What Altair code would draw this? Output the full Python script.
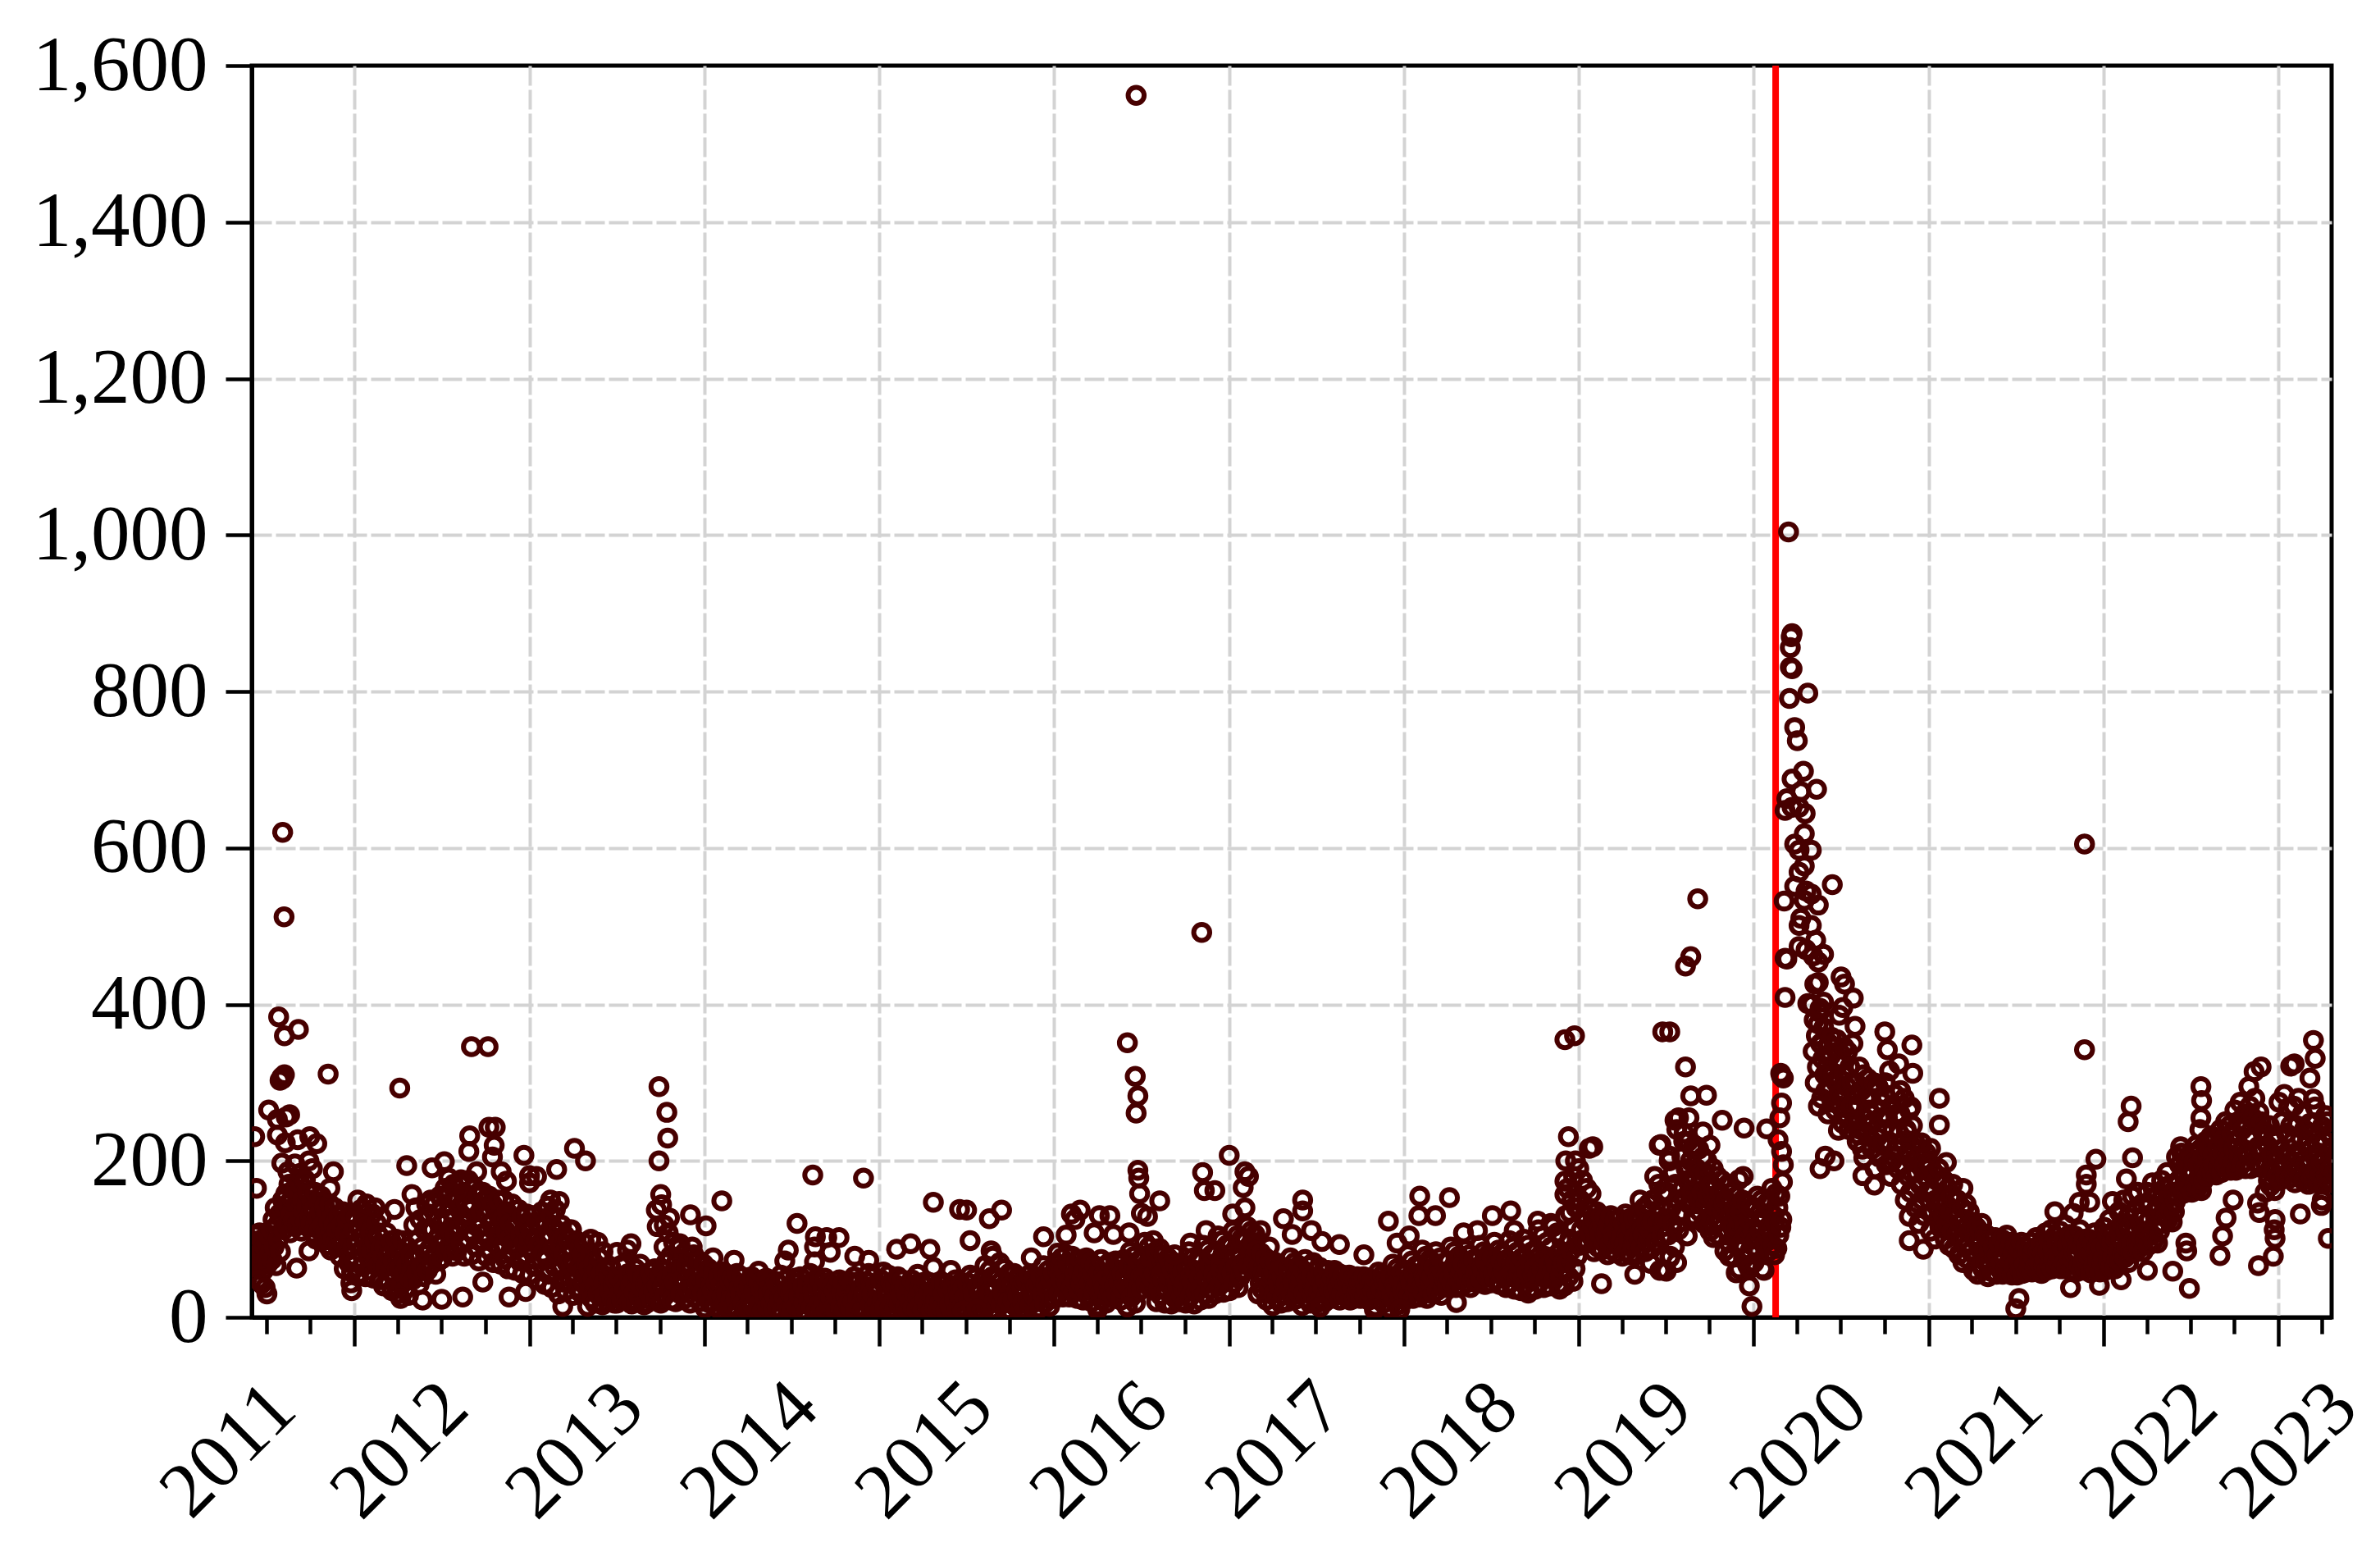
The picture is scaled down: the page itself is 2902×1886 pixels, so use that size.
import altair as alt
import pandas as pd

alt.data_transformers.disable_max_rows()

INK = "#470000"
FONT = "Liberation Serif"
Y_TICKS = [0, 200, 400, 600, 800, 1000, 1200, 1400, 1600]
YEARS = ["2011", "2012", "2013", "2014", "2015", "2016", "2017", "2018", "2019", "2020", "2021", "2022", "2023"]
YEAR_LABEL_AT = [2011.28, 2012.26, 2013.26, 2014.26, 2015.26, 2016.26, 2017.26, 2018.26, 2019.26, 2020.26, 2021.26, 2022.26, 2023.06]
MARKER_DATE = "2020-02-16"

BAND_A = {
"2011-06":[98,72,88,105,64,93,78,108,84,70,100,60,90,74],
"2011-07":[95,68,104,82,112,74,125,90,140,66,118,100,132,84],
"2011-08":[128,150,112,138,158,120,145,170,108,132,152,124,164,116],
"2011-09":[145,118,160,128,170,110,150,135,175,122,142,160,115,130],
"2011-10":[120,150,108,138,160,100,128,148,112,135,155,118,98,142],
"2011-11":[110,135,92,122,145,86,128,100,118,140,96,112,90,130],
"2011-12":[78,118,95,135,62,108,85,125,70,100,130,58,90,112],
"2012-01":[72,128,95,55,115,84,138,66,105,122,52,90,118,76],
"2012-02":[60,110,85,132,50,98,72,120,65,105,48,88,128,78],
"2012-03":[40,90,65,108,48,80,58,98,34,72,88,52,100,62],
"2012-04":[30,62,85,42,98,55,74,36,68,90,28,50,80,60],
"2012-05":[48,118,75,140,58,100,42,125,66,90,52,112,80,145],
"2012-06":[60,132,88,150,68,112,78,145,55,100,125,72,155,92],
"2012-07":[75,140,100,165,85,125,155,92,110,135,78,170,105,148],
"2012-08":[85,150,115,170,95,130,160,78,120,145,100,175,110,138],
"2012-09":[80,145,105,165,90,125,155,72,115,135,98,160,108,150],
"2012-10":[78,130,100,155,85,120,145,70,110,135,92,150,105,125],
"2012-11":[68,125,92,150,75,110,135,62,100,120,85,145,95,115],
"2012-12":[60,118,88,138,72,105,128,56,95,112,80,132,90,100],
"2013-01":[55,110,85,130,65,98,122,48,92,118,75,135,82,105],
"2013-02":[42,120,75,142,55,100,130,38,88,115,65,138,80,108],
"2013-03":[30,95,60,118,45,82,105,34,70,100,52,112,65,88],
"2013-04":[28,72,50,98,38,64,88,32,58,80,44,95,55,68],
"2013-05":[14,62,35,80,24,50,70,18,42,60,30,76,46,56],
"2013-06":[16,44,28,60,20,52,34,64,24,40,18,48],
"2013-07":[18,52,30,66,22,44,36,70,26,56,20,40],
"2013-08":[17,46,32,62,20,54,26,68,38,50,16,42],
"2013-09":[18,44,30,58,22,50,34,62,24,40,20,54],
"2013-10":[18,62,40,90,28,70,50,108,34,78,22,56,96,45],
"2013-11":[20,72,42,88,30,60,50,82,24,66,36,78],
"2013-12":[18,62,38,80,26,54,44,72,20,58,32,68],
"2014-01":[12,48,28,62,18,40,34,56,14,44,24,52],
"2014-02":[10,42,26,58,16,36,30,54,12,46,22,50],
"2014-03":[14,46,24,56,9,38,30,52,18,42,11,34],
"2014-04":[10,40,22,52,15,34,28,48,12,44,19,36],
"2014-05":[9,38,24,50,14,30,44,18,34,11,27,46],
"2014-06":[12,42,20,54,8,32,26,48,16,36,10,30],
"2014-07":[10,36,24,50,14,44,28,52,9,40,18,32],
"2014-08":[8,42,22,56,13,34,28,48,10,38,17,46],
"2014-09":[11,36,20,50,8,30,44,15,26,40,12,34],
"2014-10":[9,40,24,48,14,32,44,10,28,36,18,46],
"2014-11":[12,44,20,52,9,34,26,46,14,38,10,30],
"2014-12":[10,46,26,56,15,38,30,52,12,42,20,34],
"2015-01":[9,48,24,58,14,36,30,54,11,44,18,40],
"2015-02":[10,42,22,52,16,34,28,48,8,38,13,30],
"2015-03":[8,38,20,48,13,30,42,10,26,36,16,44],
"2015-04":[10,40,24,46,15,32,44,9,28,36,12,22],
"2015-05":[9,36,20,46,12,30,42,8,26,34,16,40],
"2015-06":[11,40,22,48,8,34,28,44,14,38,10,26],
"2015-07":[9,44,24,54,14,36,30,50,11,40,18,32],
"2015-08":[8,48,26,66,14,40,32,60,10,52,20,36],
"2015-09":[10,50,24,70,16,38,30,62,9,44,20,56],
"2015-10":[9,42,22,56,14,34,28,50,11,38,18,46],
"2015-11":[11,46,24,54,16,36,30,50,9,40,20,44],
"2015-12":[12,52,30,66,18,42,36,60,14,48,24,56],
}

BAND_B = {
"2016-01":[24,70,40,82,30,56,48,76,26,62,36,80,44,68],
"2016-02":[26,66,38,78,32,54,46,72,24,60,34,74,42,52],
"2016-03":[22,60,36,76,28,50,44,70,20,56,32,66,40,48],
"2016-04":[15,58,30,74,22,46,38,66,18,52,26,70,34,44],
"2016-05":[26,62,40,72,30,50,46,68,22,56,36,74,44,54],
"2016-06":[14,66,38,84,26,56,48,78,18,60,32,72,44,52],
"2016-07":[36,78,52,96,44,68,60,90,38,74,50,98,56,84],
"2016-08":[20,70,36,88,28,56,48,80,18,62,34,76,42,52],
"2016-09":[17,60,32,70,24,46,40,64,20,52,28,58,36,44],
"2016-10":[18,66,36,84,26,54,46,76,17,60,32,72,42,50],
"2016-11":[22,74,40,92,30,60,50,86,24,66,36,80,46,56],
"2016-12":[30,84,50,104,40,68,60,98,32,76,46,92,54,64],
"2017-01":[34,92,56,110,44,76,66,104,38,84,52,100,60,70],
"2017-02":[60,100,74,116,66,90,82,110,62,96,72,106,78,86],
"2017-03":[30,66,44,82,36,56,50,76,22,60,40,72,48,54],
"2017-04":[15,58,32,70,24,46,40,62,18,52,28,64,36,44],
"2017-05":[20,62,36,76,28,48,44,70,23,54,32,66,40,50],
"2017-06":[15,60,32,74,24,46,40,66,18,52,28,70,36,44],
"2017-07":[18,52,32,64,24,42,38,58,20,48,28,60,36,44],
"2017-08":[24,50,34,60,28,44,38,56,22,46,30,54,36,42],
"2017-09":[26,48,34,54,22,42,38,50,24,46,30,52,36,44],
"2017-10":[24,46,32,52,28,40,36,50,22,44,30,48,34,42],
"2017-11":[14,48,30,58,22,40,36,54,18,44,26,50,34,42],
"2017-12":[12,52,30,68,22,42,36,62,16,48,26,58,34,44],
"2018-01":[22,60,36,80,28,50,44,72,24,56,34,66,40,48],
"2018-02":[26,66,38,86,32,54,48,78,24,60,36,74,44,52],
"2018-03":[30,64,42,84,34,54,48,76,28,58,38,70,46,52],
"2018-04":[40,72,50,90,44,62,56,84,38,66,48,78,54,60],
"2018-05":[40,68,50,86,44,60,56,80,38,64,48,74,52,58],
"2018-06":[44,74,54,92,48,64,60,84,42,70,52,80,58,66],
"2018-07":[44,76,56,96,48,66,60,86,42,72,54,82,58,68],
"2018-08":[38,74,52,98,44,64,58,90,36,70,50,84,56,66],
"2018-09":[34,76,50,100,42,64,58,92,36,70,48,84,54,62],
"2018-10":[36,84,54,112,44,70,62,104,38,78,50,96,58,68],
"2018-11":[40,90,58,116,48,74,66,108,42,82,54,100,62,70],
"2018-12":[40,130,70,165,52,100,85,150,46,115,62,140,78,92],
"2019-01":[92,150,112,175,100,130,122,165,95,140,108,158,118,126],
"2019-02":[84,125,100,135,90,112,106,130,86,118,96,128,104,110],
"2019-03":[80,118,94,130,86,106,100,124,82,112,92,126,98,104],
"2019-04":[78,120,94,132,84,106,100,126,80,114,90,128,96,104],
"2019-05":[80,128,100,150,90,114,106,140,84,120,96,145,102,110],
"2019-06":[88,150,110,180,96,130,120,170,60,140,104,160,116,126],
"2019-07":[60,160,105,200,78,140,120,185,90,170,70,150,112,130],
"2019-08":[135,205,165,235,150,190,175,225,145,200,160,215,130,180],
"2019-09":[125,190,150,215,135,175,160,205,120,185,145,200,155,170],
"2019-10":[110,170,130,190,118,150,140,180,105,160,125,175,135,145],
"2019-11":[85,150,110,170,95,130,120,160,78,140,105,155,115,125],
"2019-12":[62,135,95,150,75,115,105,145,66,125,85,140,100,110],
"2020-01":[70,140,100,155,85,120,110,150,62,130,95,145,105,115],
"2020-02":[85,150,110,165,92,130,122,158,88,140,105,155,115,125],
}

BAND_C = {
"2020-05":[400,340,380,300,360,320,270,390,350,280,330,370,310,290],
"2020-06":[320,260,350,290,335,275,310,345,265,300,355,285,325,270],
"2020-07":[330,280,310,345,260,295,340,240,320,270,300,350,250,285],
"2020-08":[300,225,270,320,240,290,215,310,255,280,235,305,265,245],
"2020-09":[280,215,250,300,190,265,230,295,205,255,275,220,240,285],
"2020-10":[300,195,255,225,315,180,270,240,205,285,215,260,190,235],
"2020-11":[260,170,225,195,280,150,240,210,180,265,160,220,245,200],
"2020-12":[225,140,185,205,120,170,215,150,195,130,180,210,160,200],
"2021-01":[195,110,160,135,185,100,150,175,125,190,115,145,170,130],
"2021-02":[175,100,145,120,165,92,135,155,110,170,88,130,150,105],
"2021-03":[150,80,120,100,140,70,125,90,145,75,110,135,85,115],
"2021-04":[122,60,100,78,115,55,92,110,68,120,62,88,105,72],
"2021-05":[105,52,85,68,98,58,90,75,102,55,80,95,62,70],
"2021-06":[100,55,78,90,62,105,58,85,72,96,54,82,66,92],
"2021-07":[92,54,75,86,60,96,56,80,68,90,58,84,64,72],
"2021-08":[96,58,78,88,64,102,60,84,70,94,56,82,66,74],
"2021-09":[108,60,85,98,68,112,62,90,74,104,64,94,72,80],
"2021-10":[110,62,88,100,70,118,66,94,76,106,60,96,74,82],
"2021-11":[104,58,84,96,66,112,60,90,72,100,62,92,70,78],
"2021-12":[100,57,82,94,66,108,60,88,72,98,58,90,70,76],
"2022-01":[115,60,90,104,70,125,64,96,78,110,62,100,74,84],
"2022-02":[135,72,100,120,80,150,76,110,90,128,70,115,85,95],
"2022-03":[155,82,115,135,95,160,88,125,105,145,84,130,100,110],
"2022-04":[160,92,125,145,105,172,98,135,115,155,95,140,110,120],
"2022-05":[175,120,145,165,130,185,125,155,138,170,122,160,135,148],
"2022-06":[205,155,175,195,162,210,158,185,170,200,160,190,168,180],
"2022-07":[210,160,185,200,170,220,165,195,178,215,162,205,175,188],
"2022-08":[225,180,200,215,188,232,185,208,195,228,182,218,192,205],
"2022-09":[240,185,210,228,195,250,190,220,202,245,188,235,198,215],
"2022-10":[265,188,225,250,205,275,195,240,215,260,190,245,210,230],
"2022-11":[270,190,230,255,210,280,198,245,218,262,192,250,212,235],
"2022-12":[238,160,195,220,175,245,168,210,185,232,162,225,180,200],
"2023-01":[275,175,215,250,190,285,182,235,205,268,178,245,198,225],
"2023-02":[270,172,210,245,188,280,180,230,200,260,175,240,195,220],
"2023-03":[225,170,195,215,178,235,174,205,185,222,172,210,182,198],
"2023-04":[244,170,200,225,182,250,176,212,190,235,172,218,186,205],
}

PTS_2011 = [(2011.598,512),(2011.59,620),(2011.567,384),(2011.60,360),(2011.68,368),(2011.60,310),(2011.575,303),(2011.585,307),(2011.59,305),
(2011.85,311),(2011.51,265),(2011.56,253),(2011.61,256),(2011.63,259),(2011.56,233),(2011.605,223),(2011.676,227),(2011.745,231),(2011.785,222),
(2011.43,231),(2011.44,165),(2011.585,197),(2011.74,200),(2011.62,186),(2011.69,184),(2011.88,186),(2011.76,190),(2011.66,196),(2011.72,176),(2011.86,165),
(2011.74,85),(2011.67,63),(2011.50,30),(2011.985,34),(2011.47,43),(2011.45,48),(2011.49,38),(2011.98,44)]
PTS_2012 = [(2012.26,293),(2012.67,346),(2012.765,346),(2012.30,194),(2012.445,191),(2012.515,199),(2012.66,232),(2012.655,212),(2012.77,243),(2012.806,243),
(2012.80,220),(2012.79,205),(2012.97,207),(2013.0,181),(2013.0,172),(2013.04,180),(2013.155,189),(2013.257,216),(2013.32,200),(2012.70,186),(2012.84,186),(2012.87,174),
(2012.54,178),(2012.61,176),(2012.23,138),(2012.33,157),(2012.39,22),(2012.50,23),(2012.62,26),(2012.735,45),(2012.885,26),(2012.98,33),(2013.19,14),(2012.265,24),
(2012.02,150),(2012.07,145),(2012.12,140),(2013.12,150),(2013.17,148),(2013.24,112),(2013.35,100),(2013.39,96)]
PTS_2013 = [(2013.74,295),(2013.785,262),(2013.79,229),(2013.74,200),(2013.75,157),(2013.755,144),(2013.725,137),(2013.80,127),(2013.73,116),(2013.77,118),
(2013.92,131),(2014.01,117),(2014.10,149),(2014.62,182),(2014.91,178),(2015.31,147),(2015.46,138),(2014.53,120),(2014.48,86),(2014.46,72),(2014.635,103),(2014.63,90),
(2014.70,102),(2014.77,102),(2014.72,83),(2014.63,71),(2014.86,78),(2014.94,73),(2015.10,87),(2015.18,94),(2015.29,87),(2015.31,64),(2015.41,60),(2015.22,55),
(2013.93,90),(2013.86,94),(2014.05,76),(2014.17,73),(2014.31,59),(2013.58,94),(2013.42,84),(2013.5,83),(2013.56,86)]
PTS_2015 = [(2016.42,351),(2016.465,308),(2016.48,283),(2016.47,261),(2017.0,207),(2016.85,185),(2016.86,162),(2016.92,162),(2017.09,186),(2017.11,180),(2017.08,166),
(2017.09,140),(2017.02,132),(2016.48,188),(2016.485,178),(2016.49,158),(2016.605,149),(2016.50,133),(2016.535,129),(2015.50,137),(2015.63,126),(2015.70,137),(2015.52,98),
(2015.64,85),(2015.65,78),(2015.87,76),(2015.94,103),(2016.10,132),(2016.15,137),(2016.12,125),(2016.26,130),(2016.32,130),(2016.23,108),(2016.07,105),(2016.34,106),(2016.43,108),
(2017.42,150),(2017.42,136),(2017.31,126),(2017.36,106),(2017.18,111),(2017.23,90),(2016.69,80),(2016.78,95),(2016.87,111),(2016.25,10),(2016.42,13),(2016.47,1562),(2016.845,492),(2015.48,8),(2015.56,10)]
PTS_2017 = [(2018.09,155),(2018.26,153),(2017.91,123),(2018.085,130),(2018.18,130),(2018.61,136),(2018.505,130),(2018.92,355),(2018.975,360),(2019.48,365),(2018.94,231),(2019.08,218),(2019.06,216),
(2018.925,200),(2018.98,200),(2018.92,174),(2018.92,157),(2018.95,134),(2019.46,220),(2019.13,43),(2018.30,19),(2017.975,10),(2017.83,10),(2017.52,13),(2018.89,36),(2018.71,31),(2019.32,55),(2019.41,69),
(2019.49,60),(2019.42,123),(2017.96,95),(2018.03,104),(2017.63,93),(2017.77,80),(2017.47,111),(2017.53,97),(2018.34,108),(2018.42,111),(2018.63,111),(2018.765,123),(2018.84,120),(2019.0,190),(2018.97,180)]
PTS_2019 = [(2019.68,535),(2019.64,461),(2019.61,449),(2019.52,365),(2019.61,320),(2019.64,283),(2019.73,284),(2019.82,252),(2019.945,242),(2020.075,241),(2019.57,255),(2019.55,252),(2019.63,255),
(2019.71,237),(2019.75,220),(2019.47,221),(2019.52,206),(2019.94,180),(2019.915,176),(2019.5,59),(2019.52,76),(2019.62,104),(2019.67,127),(2019.77,102),(2019.86,78),(2019.90,57),(2019.975,40),(2019.99,14),
(2019.975,62),(2020.06,60),(2020.12,80),(2019.56,240),(2019.6,225),(2019.66,220),(2020.155,312),(2020.17,306),(2020.16,308),(2020.16,274),(2020.15,255),(2020.14,227),(2020.16,212),(2020.17,195),(2020.165,173),(2020.18,459),(2020.18,409)]
PTS_2020 = [(2020.2,1004),(2020.22,874),(2020.215,870),(2020.21,856),(2020.21,831),(2020.22,829),(2020.205,791),(2020.31,798),(2020.235,754),(2020.25,737),(2020.285,698),(2020.22,688),(2020.27,672),(2020.36,675),
(2020.19,663),(2020.18,648),(2020.26,652),(2020.295,644),(2020.22,652),(2020.29,618),(2020.235,605),(2020.26,597),(2020.33,597),(2020.29,577),(2020.26,569),(2020.235,551),(2020.45,553),(2020.30,545),(2020.33,541),
(2020.29,533),(2020.37,527),(2020.175,532),(2020.27,510),(2020.26,501),(2020.33,501),(2020.355,482),(2020.26,474),(2020.30,470),(2020.40,464),(2020.34,462),(2020.37,454),(2020.19,458),(2020.5,435),(2020.52,426),
(2020.57,408),(2020.37,428),(2020.35,426),(2020.31,401),(2020.40,403),(2020.51,396),(2020.49,386),(2020.38,395),(2020.37,375),(2020.58,372),(2020.75,365),(2020.39,349),(2020.445,358),(2020.765,342),(2020.905,348),
(2020.83,324),(2020.91,312),(2021.06,280),(2021.06,246),(2020.84,290),(2020.90,269),(2020.485,239),(2020.51,248),(2020.60,233),(2020.41,206),(2020.46,200),(2020.38,190),(2020.63,204),(2020.625,181),(2020.69,169),
(2020.79,199),(2020.875,237),(2021.10,198),(2021.01,216),(2020.96,223),(2020.89,129),(2020.89,98),(2020.97,87),(2021.195,165)]
PTS_2021 = [(2021.89,605),(2021.89,342),(2021.955,202),(2021.90,182),(2021.90,170),(2021.86,147),(2021.92,147),(2021.825,133),(2021.72,135),(2022.05,148),(2022.157,270),(2022.14,250),(2022.165,204),(2022.13,177),
(2022.556,295),(2022.56,277),(2022.556,255),(2022.55,240),(2022.44,218),(2022.90,320),(2022.86,314),(2022.83,295),(2023.09,324),(2023.07,321),(2023.2,354),(2023.21,331),(2023.18,306),(2023.2,279),(2023.21,269),
(2023.27,258),(2023.18,248),(2021.515,24),(2021.497,11),(2021.81,38),(2021.975,41),(2022.10,48),(2022.25,60),(2022.395,59),(2022.49,37),(2022.47,95),(2022.475,85),(2022.665,79),(2022.68,104),(2022.70,127),(2022.74,150),
(2022.885,66),(2022.97,78),(2022.98,101),(2022.975,112),(2022.98,125),(2022.88,146),(2022.89,134),(2023.125,132),(2023.245,143),(2023.25,150),(2023.285,101)]


def from_year(y):
    whole = int(y)
    return pd.Timestamp(year=whole, month=1, day=1) + pd.Timedelta(days=(y - whole) * 365.25)


rows = []
for band in (BAND_A, BAND_B, BAND_C):
    for month, vals in band.items():
        start = pd.Timestamp(month + "-01")
        for i, v in enumerate(vals):
            rows.append({"date": start + pd.Timedelta(days=(i + 0.5) / len(vals) * start.days_in_month), "v": v})
for pts in (PTS_2011, PTS_2012, PTS_2013, PTS_2015, PTS_2017, PTS_2019, PTS_2020, PTS_2021):
    rows.extend({"date": from_year(t), "v": v} for t, v in pts)
points = pd.DataFrame(rows)
points["date"] = points["date"].dt.strftime("%Y-%m-%dT%H:%M:%S")

year_labels = pd.DataFrame({
    "date": [from_year(t).strftime("%Y-%m-%dT%H:%M:%S") for t in YEAR_LABEL_AT],
    "label": YEARS,
    "y": [0] * len(YEARS),
})
marker = pd.DataFrame({"date": [MARKER_DATE + "T00:00:00"]})

tick_values = [alt.DateTime(year=y, month=m, date=1) for y in range(2011, 2024) for m in (1, 4, 7, 10)
               if pd.Timestamp(year=y, month=m, day=1) >= pd.Timestamp("2011-06-01")
               and pd.Timestamp(year=y, month=m, day=1) <= pd.Timestamp("2023-04-22")]

x_scale = alt.Scale(domain=["2011-06-01T00:00:00", "2023-04-22T00:00:00"])
y_scale = alt.Scale(domain=[0, 1600], nice=False)
is_year = "month(datum.value)===0"

x_enc = alt.X("date:T", scale=x_scale, title=None, axis=alt.Axis(
    values=tick_values, labels=False, domain=True, domainColor="black", domainWidth=5,
    tickColor="black", tickWidth=4.5,
    tickSize={"condition": {"test": is_year, "value": 35}, "value": 20},
    grid=True, gridColor="#d3d3d3", gridWidth=4, gridDash=[24, 5],
    gridOpacity={"condition": {"test": is_year, "value": 1}, "value": 0},
))
y_enc = alt.Y("v:Q", scale=y_scale, title=None, axis=alt.Axis(
    values=Y_TICKS, format=",.0f", domain=True, domainColor="black", domainWidth=5,
    tickColor="black", tickWidth=4.5, tickSize=32,
    labelFont=FONT, labelFontSize=95, labelColor="black", labelPadding=22, labelOverlap=False, labelFlush=False, labelLimit=0,
    grid=True, gridColor="#d3d3d3", gridWidth=4, gridDash=[24, 5],
    gridOpacity={"condition": {"test": "datum.value>0 && datum.value<1600", "value": 1}, "value": 0},
))

scatter = alt.Chart(points).mark_point(
    shape="circle", filled=False, size=380, strokeWidth=6, color=INK, opacity=1, clip=True
).encode(x=x_enc, y=y_enc)

rule = alt.Chart(marker).mark_rule(color="#ff0000", strokeWidth=8).encode(x=alt.X("date:T", scale=x_scale))

# Vega applies dx/dy in the text's rotated frame, so equal and opposite offsets move the label straight down.
labels = alt.Chart(year_labels).mark_text(
    angle=315, align="center", baseline="middle", font=FONT, fontSize=95, color="black", dx=-114.5, dy=114.5
).encode(x=alt.X("date:T", scale=x_scale), y=alt.Y("y:Q", scale=y_scale), text="label:N")

chart = alt.layer(rule, scatter, labels).properties(
    width=2536, height=1526,
    autosize=alt.AutoSizeParams(type="none"),
    padding={"left": 299, "top": 72, "right": 50, "bottom": 270},
).configure_view(stroke="black", strokeWidth=5)

chart.save("out.html", embed_options={"renderer": "svg", "actions": False})
